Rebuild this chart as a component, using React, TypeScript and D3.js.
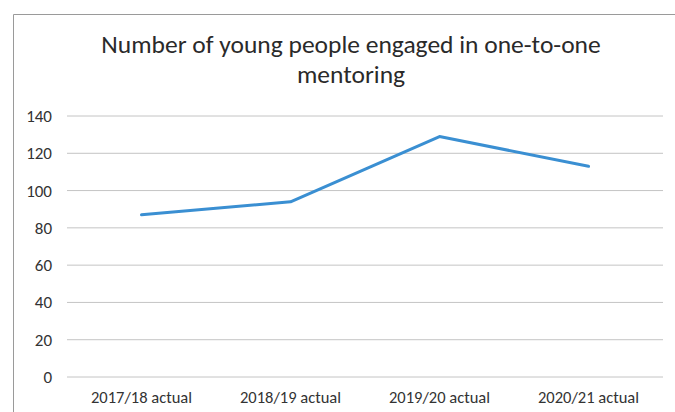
import React from "react";
import * as d3 from "d3";

const categories = ["2017/18 actual", "2018/19 actual", "2019/20 actual", "2020/21 actual"];
const values = [87, 94, 129, 113];
const yTicks = [0, 20, 40, 60, 80, 100, 120, 140];
const titleLines = ["Number of young people engaged in one-to-one", "mentoring"];

export default function App() {
  const W = 675, H = 412;
  const left = 67, right = 663, top = 116, bottom = 377;
  const x = d3.scaleBand<string>().domain(categories).range([left, right]);
  const y = d3.scaleLinear().domain([0, 140]).range([bottom, top]);
  const line = d3
    .line<number>()
    .x((_, i) => (x(categories[i]) as number) + x.bandwidth() / 2)
    .y((d) => y(d));
  const font = "Carlito, 'Liberation Sans', Arial, sans-serif";
  return (
    <svg
      width={W}
      height={H}
      style={{ position: "absolute", left: 0, top: 0, background: "#fff" }}
      fontFamily={font}
    >
      <rect x={0} y={0} width={W} height={H} fill="#fff" />
      <path d={`M13.5,${H} V14.5 H${W}`} fill="none" stroke="#9a9a9a" strokeWidth={1} />
      {titleLines.map((t, i) => (
        <text
          key={i}
          x={351}
          y={53 + i * 30}
          textAnchor="middle"
          fontSize={25.5}
          fill="#2a2a2a"
        >
          {t}
        </text>
      ))}
      {yTicks.map((t) => (
        <g key={t}>
          <line x1={left} x2={right} y1={y(t)} y2={y(t)} stroke="#c4c4c4" strokeWidth={1} />
          <text x={52} y={y(t)} dy="0.35em" textAnchor="end" fontSize={17} fill="#333">
            {t}
          </text>
        </g>
      ))}
      {categories.map((c) => (
        <text
          key={c}
          x={(x(c) as number) + x.bandwidth() / 2}
          y={403}
          textAnchor="middle"
          fontSize={16.5}
          fill="#333"
        >
          {c}
        </text>
      ))}
      <path d={line(values) || ""} fill="none" stroke="#3a8fd2" strokeWidth={3} strokeLinejoin="round" strokeLinecap="round" />
    </svg>
  );
}
